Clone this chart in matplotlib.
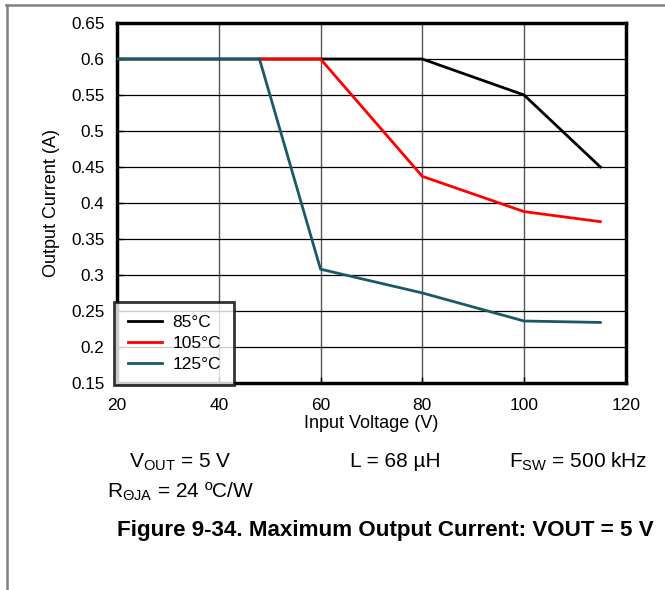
import numpy as np
import matplotlib
matplotlib.use("Agg")
import matplotlib.pyplot as plt
from matplotlib.lines import Line2D

plt.rcParams['font.family'] = ['Liberation Sans', 'DejaVu Sans']
plt.rcParams['mathtext.fontset'] = 'custom'
plt.rcParams['mathtext.rm'] = 'Liberation Sans'
plt.rcParams['mathtext.it'] = 'Liberation Sans'
plt.rcParams['mathtext.default'] = 'rm'

# data
v85 = [20, 80, 100, 115]
i85 = [0.6, 0.6, 0.55, 0.45]
v105 = [48, 60, 80, 100, 115]
i105 = [0.6, 0.6, 0.437, 0.388, 0.374]
v125 = [20, 48, 60, 80, 100, 115]
i125 = [0.6, 0.6, 0.308, 0.275, 0.236, 0.234]
labels = ['85°C', '105°C', '125°C']
colors = ['#000000', '#ff0000', '#1a5a66']

xticks = [20, 40, 60, 80, 100, 120]
yticks = [0.15, 0.2, 0.25, 0.3, 0.35, 0.4, 0.45, 0.5, 0.55, 0.6, 0.65]

fig = plt.figure(figsize=(6.65, 5.9), dpi=100)
ax = fig.add_axes([0.176, 0.351, 0.765, 0.610])

ax.plot(v85, i85, color=colors[0], lw=2, zorder=3)
ax.plot(v105, i105, color=colors[1], lw=2, zorder=3)
ax.plot(v125, i125, color=colors[2], lw=2, zorder=4)

ax.set_xlim(20, 120)
ax.set_ylim(0.15, 0.65)
ax.set_xticks(xticks)
ax.set_yticks(yticks)
ax.set_xticklabels([str(x) for x in xticks], fontsize=12.5)
ax.set_yticklabels(['%g' % y for y in yticks], fontsize=12.3)
ax.tick_params(direction='in', length=4, width=1)
ax.tick_params(axis='x', pad=11)
ax.tick_params(axis='y', pad=9)
for x in xticks[1:-1]:
    ax.axvline(x, color='#555555', lw=1, zorder=1)
for y in yticks[1:-1]:
    ax.axhline(y, color='#000000', lw=0.9, zorder=1)
for s in ax.spines.values():
    s.set_linewidth(2.5)

ax.set_xlabel('Input Voltage (V)', fontsize=13, labelpad=1)
ax.set_ylabel('Output Current (A)', fontsize=13, labelpad=8)

handles = [Line2D([0], [0], color=c, lw=2) for c in colors]
leg = ax.legend(handles, labels, loc='lower left', bbox_to_anchor=(-0.005, -0.005),
                fontsize=12.5, frameon=True, fancybox=False, handlelength=2.0,
                handletextpad=0.6, borderpad=0.75, labelspacing=0.33, borderaxespad=0)
leg.get_frame().set_edgecolor('black')
leg.get_frame().set_linewidth(2)
leg.set_zorder(5)

fig.text(0.271, 0.217, r'V$_{\mathrm{OUT}}$ = 5 V', fontsize=15, ha='center', va='center')
fig.text(0.594, 0.217, 'L = 68 µH', fontsize=15, ha='center', va='center')
fig.text(0.869, 0.217, r'F$_{\mathrm{SW}}$ = 500 kHz', fontsize=15, ha='center', va='center')
fig.text(0.161, 0.166, r'R$_{\mathrm{ΘJA}}$ = 24 ºC/W', fontsize=15, ha='left', va='center')
fig.text(0.176, 0.101, 'Figure 9-34. Maximum Output Current: VOUT = 5 V',
         fontsize=16.1, fontweight='bold', ha='left', va='center')

# page frame lines (top and left)
fig.add_artist(Line2D([0.009, 1.0], [0.991, 0.991], color='#808080', lw=1.8))
fig.add_artist(Line2D([0.011, 0.011], [0.0, 0.991], color='#808080', lw=1.8))

fig.savefig('out.png', dpi=100)
